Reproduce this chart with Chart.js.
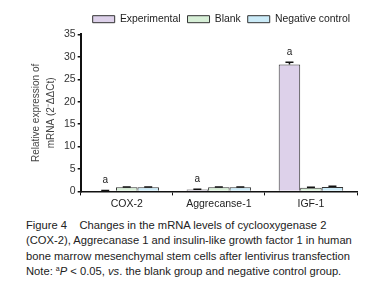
<!DOCTYPE html>
<html>
<head>
<meta charset="utf-8">
<script src="https://cdn.jsdelivr.net/npm/chart.js@4"></script>
<style>
  body { margin: 0; background: #fff; width: 389px; height: 300px; overflow: hidden; }
  #wrap { position: relative; width: 389px; height: 212px; }
  #caption {
    font-family: "Liberation Sans", Arial, sans-serif;
    font-size: 11.2px; line-height: 15.4px; color: #222;
    margin: 6px 0 0 26px; white-space: nowrap;
  }
  #caption .sup { font-size: 7px; vertical-align: 4px; line-height: 0; }
</style>
</head>
<body>
<div id="wrap"><canvas id="chart"></canvas></div>
<div id="caption">
  Figure 4&nbsp;&nbsp;&nbsp; Changes in the mRNA levels of cyclooxygenase 2<br>
  (COX-2), Aggrecanase 1 and insulin-like growth factor 1 in human<br>
  bone marrow mesenchymal stem cells after lentivirus transfection<br>
  Note: <span class="sup">a</span><i>P</i> &lt; 0.05, <i>vs</i>. the blank group and negative control group.
</div>
<script>
const categories = ["COX-2", "Aggrecanse-1", "IGF-1"];
const seriesNames = ["Experimental", "Blank", "Negative control"];
const experimental = [0.15, 0.4, 28.3];
const blank = [0.9, 0.9, 0.8];
const negative = [0.9, 0.9, 1.0];
const experimentalErr = [0.05, 0.1, 0.5];
const blankErr = [0.1, 0.1, 0.1];
const negativeErr = [0.1, 0.1, 0.15];
const significant = [true, true, true]; // "a" over experimental bar
const yTicks = [0, 5, 10, 15, 20, 25, 30, 35];

const fills = ["#ddd1ea", "#d7efd7", "#cbebf8"];
const font = "'Liberation Sans', Arial, sans-serif";

const errorBars = {
    id: "errorBars",
    afterDatasetsDraw(chart) {
        const ctx = chart.ctx;
        const y = chart.scales.y;
        const errs = [experimentalErr, blankErr, negativeErr];
        ctx.save();
        ctx.strokeStyle = "#111";
        ctx.lineWidth = 1.5;
        chart.data.datasets.forEach((ds, i) => {
            const meta = chart.getDatasetMeta(i);
            meta.data.forEach((bar, j) => {
                const v = ds.data[j];
                const top = y.getPixelForValue(v + errs[i][j]);
                const bot = y.getPixelForValue(v);
                ctx.beginPath();
                ctx.moveTo(bar.x, bot);
                ctx.lineTo(bar.x, top);
                ctx.moveTo(bar.x - 4, top);
                ctx.lineTo(bar.x + 4, top);
                ctx.stroke();
            });
        });
        // significance letters
        ctx.fillStyle = "#222";
        ctx.font = "10px " + font;
        ctx.textAlign = "center";
        ctx.textBaseline = "bottom";
        const meta0 = chart.getDatasetMeta(0);
        meta0.data.forEach((bar, j) => {
            if (!significant[j]) return;
            const top = y.getPixelForValue(experimental[j] + experimentalErr[j]);
            ctx.fillText("a", bar.x, top - 5);
        });
        ctx.restore();
    }
};

new Chart(document.getElementById("chart"), {
    type: "bar",
    data: {
        labels: categories,
        datasets: [
            { label: seriesNames[0], data: experimental, backgroundColor: fills[0] },
            { label: seriesNames[1], data: blank, backgroundColor: fills[1] },
            { label: seriesNames[2], data: negative, backgroundColor: fills[2] },
        ].map((d) => Object.assign(d, {
            borderColor: "#333",
            borderWidth: 1,
            categoryPercentage: 0.7,
            barPercentage: 1.0,
        })),
    },
    options: {
        responsive: true,
        maintainAspectRatio: false,
        animation: false,
        layout: { padding: { left: 29, right: 32, top: 7, bottom: 0 } },
        plugins: {
            legend: {
                align: "end",
                labels: {
                    boxWidth: 22,
                    boxHeight: 7,
                    padding: 7,
                    color: "#222",
                    font: { family: font, size: 10.4 },
                },
            },
            tooltip: { enabled: false },
        },
        scales: {
            x: {
                grid: { drawOnChartArea: false, offset: true, color: "#111", tickLength: 4, lineWidth: 1 },
                border: { color: "#111", width: 1.5 },
                ticks: { color: "#222", padding: 2, font: { family: font, size: 10.5 } },
            },
            y: {
                min: 0,
                max: 35,
                afterBuildTicks(axis) { axis.ticks = yTicks.map((v) => ({ value: v })); },
                grid: { drawOnChartArea: false, color: "#111", tickLength: 3, lineWidth: 1.5 },
                border: { color: "#111", width: 2 },
                ticks: { color: "#333", padding: 2, font: { family: font, size: 10.5 } },
                title: {
                    display: true,
                    text: ["Relative expression of", "mRNA (2\u207B\u0394\u0394Ct)"],
                    color: "#444",
                    font: { family: font, size: 10, lineHeight: 1.5 },
                    padding: { top: 0, bottom: 3 },
                },
            },
        },
    },
    plugins: [errorBars],
});
</script>
</body>
</html>
